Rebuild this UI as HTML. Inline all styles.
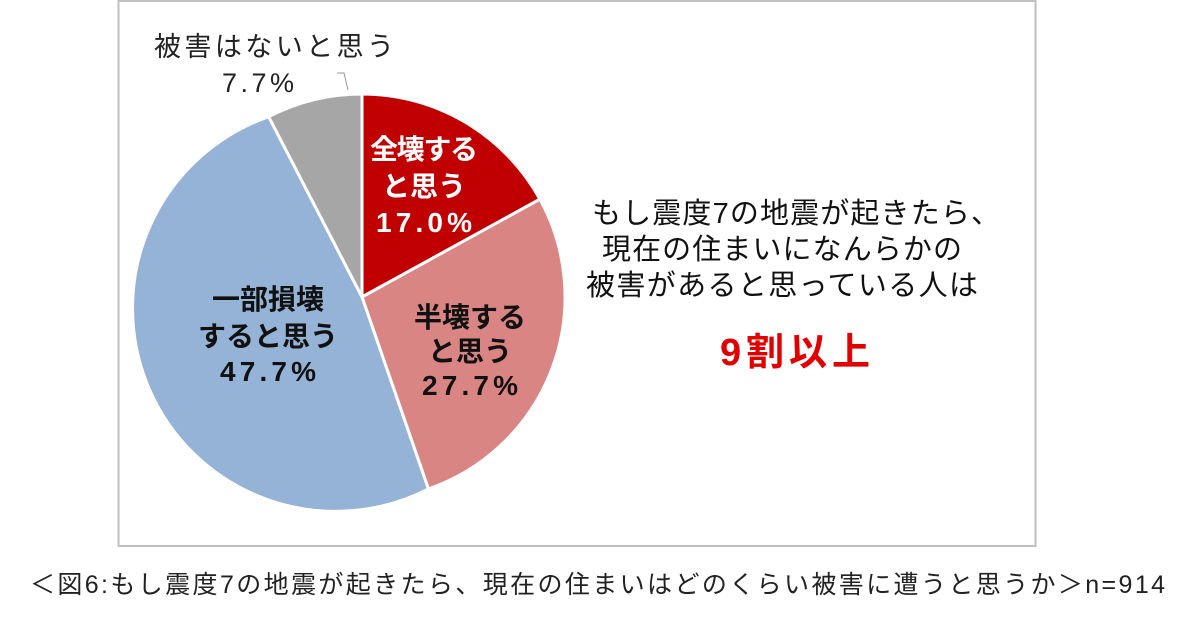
<!DOCTYPE html>
<html><head><meta charset="utf-8"><style>
body{margin:0;background:#fff;width:1200px;height:620px;overflow:hidden;font-family:"Liberation Sans","Noto Sans CJK JP",sans-serif}
</style></head><body>
<svg width="1200" height="620" xmlns="http://www.w3.org/2000/svg" style="position:absolute;left:0;top:0">
<rect x="118.5" y="1" width="917" height="545" fill="#fff" stroke="#bfbfbf" stroke-width="2"/>
<g stroke="#fff" stroke-width="3" stroke-linejoin="round">
<path d="M362 297 L362 94 A203 203 0 0 1 539.9 199.2 Z" fill="#c00000"/>
<path d="M362 297 L539.9 199.2 A203 203 0 0 1 428.4 488.9 Z" fill="#d98583"/>
<path d="M362 297 L428.4 488.9 A203 203 0 1 1 268.7 116.7 Z" fill="#95b3d7"/>
<path d="M362 297 L268.7 116.7 A203 203 0 0 1 362 94 Z" fill="#a6a6a6"/>
</g>
<polyline points="337,73 344,73 348,90" fill="none" stroke="#999" stroke-width="1"/>
<g font-family="Liberation Sans, Noto Sans CJK JP, sans-serif" text-anchor="middle">
<text x="274" y="56" font-size="27" fill="#222" textLength="240" lengthAdjust="spacing">被害はないと思う</text>
<text x="258" y="92" font-size="27" fill="#222" textLength="72" lengthAdjust="spacing">7.7%</text>
<g font-weight="bold" font-size="28" fill="#fff">
<text x="424" y="159" textLength="108" lengthAdjust="spacing">全壊する</text>
<text x="424" y="196" textLength="84" lengthAdjust="spacing">と思う</text>
<text x="424" y="232" textLength="96" lengthAdjust="spacing">17.0%</text>
</g>
<g font-weight="bold" font-size="28" fill="#111">
<text x="470" y="327" textLength="112" lengthAdjust="spacing">半壊する</text>
<text x="470" y="361" textLength="84" lengthAdjust="spacing">と思う</text>
<text x="470" y="395" textLength="96" lengthAdjust="spacing">27.7%</text>
<text x="268" y="309" textLength="112" lengthAdjust="spacing">一部損壊</text>
<text x="268" y="346" textLength="140" lengthAdjust="spacing">すると思う</text>
<text x="268" y="381" textLength="96" lengthAdjust="spacing">47.7%</text>
</g>
<g font-size="29" fill="#111">
<text x="796" y="223" textLength="408" lengthAdjust="spacing">もし震度7の地震が起きたら、</text>
<text x="782" y="259" textLength="360" lengthAdjust="spacing">現在の住まいになんらかの</text>
<text x="782" y="295" textLength="392" lengthAdjust="spacing">被害があると思っている人は</text>
</g>
<text x="795" y="365" font-size="38" font-weight="bold" fill="#e00000" textLength="150" lengthAdjust="spacing">9割以上</text>
</g>
<text x="30" y="593" font-size="25" fill="#222" textLength="1135" lengthAdjust="spacing" font-family="Liberation Sans, Noto Sans CJK JP, sans-serif">＜図6:もし震度7の地震が起きたら、現在の住まいはどのくらい被害に遭うと思うか＞n=914</text>
</svg>
</body></html>
